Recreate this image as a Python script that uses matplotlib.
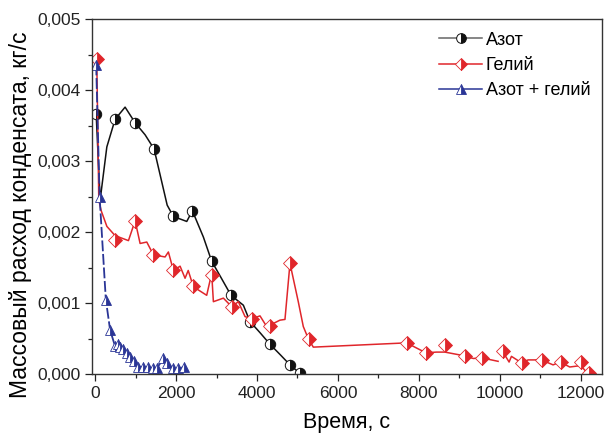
import numpy as np
import matplotlib.pyplot as plt
from matplotlib.lines import Line2D
from matplotlib.ticker import FuncFormatter, MultipleLocator

plt.rcParams['font.family'] = ['Liberation Sans', 'DejaVu Sans']

# Азот: line points and marker points (t in s, q in kg/s)
azot_line_t = [25, 123, 289, 494, 740, 988, 1235, 1457, 1780, 1934, 2264, 2403,
               2675, 2880, 3120, 3358, 3663, 3827, 4080, 4321, 4580, 4815, 5062]
azot_line_q = [0.00367, 0.00245, 0.00320, 0.00359, 0.00376, 0.00354, 0.00337, 0.00317,
               0.00238, 0.00222, 0.00215, 0.00230, 0.00193, 0.00159, 0.00135, 0.00111,
               0.00097, 0.00074, 0.00058, 0.00042, 0.00027, 0.00013, 0.00001]
azot_mark_t = [25, 494, 988, 1457, 1934, 2403, 2880, 3358, 3827, 4321, 4815, 5062]
azot_mark_q = [0.00367, 0.00359, 0.00354, 0.00317, 0.00222, 0.00230, 0.00159, 0.00111,
               0.00074, 0.00042, 0.00013, 0.00001]

# Гелий
gel_line_t = [40, 90, 150, 290, 494, 823, 988, 1111, 1276, 1440, 1728, 1810, 1934, 2099,
              2222, 2300, 2428, 2757, 2880, 2922, 3169, 3374, 3539, 3704, 3868, 4074,
              4239, 4321, 4568, 4691, 4815, 5020, 5144, 5267, 5391, 7696, 8173, 8436,
              8642, 9012, 9136, 9350, 9547, 9958, np.nan, 10123, 10230, 10288, 10535,
              10700, 11029, 11317, 11498, 11728, 12000, 12140, 12222]
gel_line_q = [0.00444, 0.00245, 0.00230, 0.00208, 0.00195, 0.00188, 0.00216, 0.00184,
              0.00186, 0.00168, 0.00165, 0.00172, 0.00146, 0.00152, 0.00135, 0.00146,
              0.00123, 0.00111, 0.00142, 0.00102, 0.00107, 0.00095, 0.00102, 0.00081,
              0.00078, 0.00082, 0.00067, 0.00069, 0.00076, 0.00077, 0.00156, 0.00102,
              0.00067, 0.00050, 0.00038, 0.00044, 0.00030, 0.00031, 0.00031, 0.00027,
              0.00025, 0.00022, 0.00023, 0.00018, np.nan, 0.00027, 0.00017, 0.00025,
              0.00016, 0.00020, 0.00020, 0.00013, 0.00017, 0.00010, 0.00012, 0.00003,
              0.00001]
gel_mark_t = [40, 494, 988, 1440, 1934, 2428, 2880, 3374, 3868, 4321, 4815, 5280, 7696,
              8173, 8642, 9130, 9570, 10075, 10550, 11040, 11510, 12000, 12215]
gel_mark_q = [0.00444, 0.00189, 0.00216, 0.00168, 0.00146, 0.00124, 0.00139, 0.00095,
              0.00078, 0.00068, 0.00156, 0.00050, 0.00044, 0.00030, 0.00041, 0.00026,
              0.00023, 0.00032, 0.00016, 0.00020, 0.00017, 0.00017, 0.00001]

# Азот + гелий
mix_t = [25, 110, 264, 370, 494, 560, 617, 700, 780, 864, 950, 1070, 1193, 1317, 1440,
         1523, 1687, 1770, 1934, 2058, 2206]
mix_q = [0.00436, 0.00250, 0.00105, 0.00062, 0.00039, 0.00042, 0.00038, 0.00036, 0.00030,
         0.00024, 0.00018, 0.00010, 0.00010, 0.00010, 0.00008, 0.00008, 0.00022, 0.00015,
         0.00008, 0.00008, 0.00010]

black = '#111111'
red = '#e0262b'
blue = '#2a3596'

fig = plt.figure(figsize=(6.06, 4.34), dpi=100)
ax = fig.add_axes([0.152, 0.138, 0.841, 0.818])

ax.plot(azot_line_t, azot_line_q, color=black, lw=1.1)
ax.plot(azot_mark_t, azot_mark_q, ls='none', marker='o', ms=7.5, fillstyle='right',
        color=black, markerfacecoloralt='white', mec=black, mew=0.7)

ax.plot(gel_line_t, gel_line_q, color=red, lw=1.1)
ax.plot(gel_mark_t, gel_mark_q, ls='none', marker='D', ms=7, fillstyle='right',
        color=red, markerfacecoloralt='white', mec=red, mew=0.6)

ax.plot(mix_t, mix_q, color=blue, lw=1.3, ls=(0, (6, 1.5)))
ax.plot(mix_t, mix_q, ls='none', marker='^', ms=7, fillstyle='right',
        color=blue, markerfacecoloralt='white', mec=blue, mew=0.6)

ax.set_xlim(-75, 12520)
ax.set_ylim(0, 0.005)
ax.xaxis.set_major_locator(MultipleLocator(2000))
ax.xaxis.set_minor_locator(MultipleLocator(1000))
ax.yaxis.set_major_locator(MultipleLocator(0.001))
ax.yaxis.set_minor_locator(MultipleLocator(0.0005))
ax.yaxis.set_major_formatter(FuncFormatter(lambda v, p: f'{v:.3f}'.replace('.', ',')))
ax.tick_params(which='both', direction='out', labelsize=12.5, colors='#222222')
ax.tick_params(which='major', length=5, width=0.9)
ax.tick_params(which='minor', length=3, width=0.9)
for s in ax.spines.values():
    s.set_linewidth(1.0)
    s.set_color('#333333')

ax.set_xlabel('Время, с', fontsize=15.5, labelpad=8)
ax.set_ylabel('Массовый расход конденсата, кг/с', fontsize=16.5)
ax.yaxis.set_label_coords(-0.118, 0.45)

handles = [
    Line2D([], [], color='#666666', lw=1.1, marker='o', ms=7, fillstyle='right',
           markerfacecolor=black, markerfacecoloralt='white', mec=black, mew=0.7),
    Line2D([], [], color=red, lw=1.1, marker='D', ms=6.5, fillstyle='right',
           markerfacecolor=red, markerfacecoloralt='white', mec=red, mew=0.6),
    Line2D([], [], color=blue, lw=1.1, marker='^', ms=6.5, fillstyle='right',
           markerfacecolor=blue, markerfacecoloralt='white', mec=blue, mew=0.6),
]
ax.legend(handles, ['Азот', 'Гелий', 'Азот + гелий'], loc='upper right',
          bbox_to_anchor=(1.01, 1.01), frameon=False, fontsize=13,
          handlelength=2.4, handletextpad=0.2, labelspacing=0.45)

fig.savefig('out.png', dpi=100)
